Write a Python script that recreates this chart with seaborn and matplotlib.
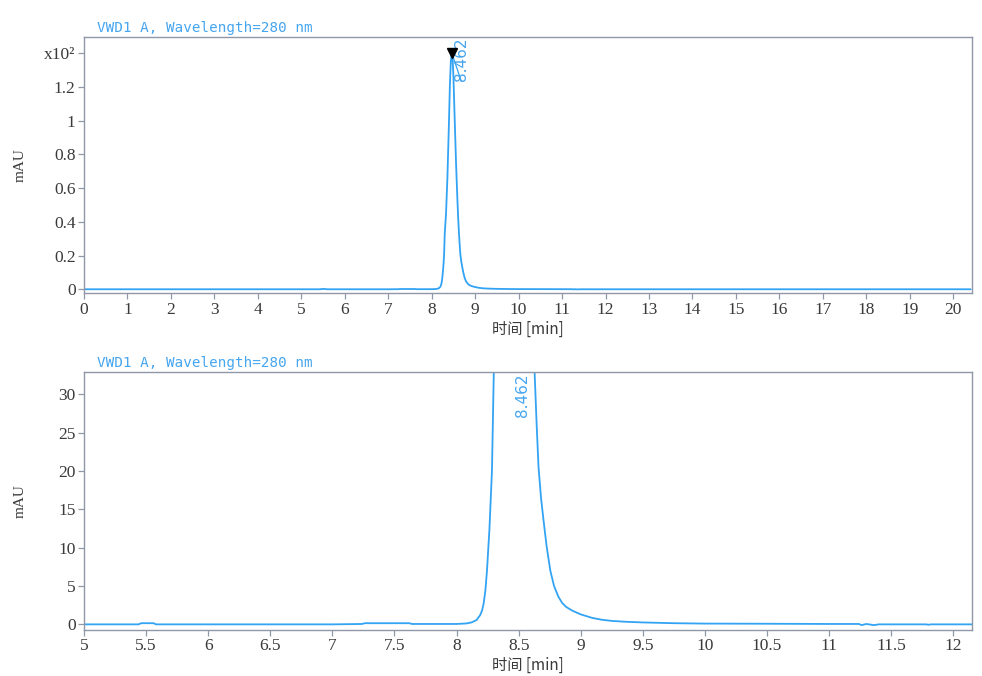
import numpy as np
import pandas as pd
import matplotlib
matplotlib.use("Agg")
import matplotlib.pyplot as plt
import seaborn as sns

# chromatogram trace (time in min, signal in mAU)
time_min = [0, 2, 4, 5, 5.44, 5.46, 5.56, 5.58, 7.0, 7.24, 7.26, 7.62, 7.64,
            8.0, 8.08, 8.12, 8.16, 8.19, 8.205, 8.218, 8.232, 8.245, 8.265, 8.285,
            8.30, 8.33, 8.36, 8.39, 8.42, 8.44, 8.462, 8.48, 8.50, 8.53, 8.56,
            8.59, 8.61, 8.628, 8.645, 8.66, 8.68, 8.70, 8.725, 8.755, 8.785,
            8.82, 8.85, 8.88, 8.93, 9.0, 9.09, 9.17, 9.25, 9.37, 9.5, 9.75,
            10.0, 10.5, 11.0, 11.24, 11.26, 11.3, 11.36, 11.4, 11.78, 11.8,
            11.82, 12.0, 13, 15, 17, 20.4]
signal_mau = [0, 0, 0, 0, 0, 0.15, 0.15, 0, 0, 0.05, 0.15, 0.15, 0.05,
              0.05, 0.12, 0.25, 0.55, 1.2, 1.8, 2.7, 4.4, 7, 12.5, 20,
              33, 45, 65, 92, 122, 135, 140, 137, 126, 100, 75,
              54, 42, 33, 26, 20.5, 16.5, 13.6, 10.2, 7, 5.0,
              3.6, 2.8, 2.3, 1.8, 1.3, 0.85, 0.6, 0.45, 0.33, 0.25, 0.15,
              0.1, 0.08, 0.05, 0.05, -0.1, 0.05, -0.1, 0.0, 0, -0.05,
              0, 0, 0, 0, 0, 0]

peak_time = 8.462
peak_label = "8.462"
title_text = "VWD1 A, Wavelength=280 nm"
x_label = "时间 [min]"
y_label = "mAU"

top_yticks = [0, 0.2, 0.4, 0.6, 0.8, 1.0, 1.2, 1.4]
top_ylabels = ["0", "0.2", "0.4", "0.6", "0.8", "1", "1.2", "x10²"]
top_xticks = list(range(0, 21))
bot_xticks = [5, 5.5, 6, 6.5, 7, 7.5, 8, 8.5, 9, 9.5, 10, 10.5, 11, 11.5, 12]
bot_yticks = [0, 5, 10, 15, 20, 25, 30]

line_color = "#33a3f4"
text_blue = "#45a5ef"
spine_color = "#9098a8"
label_color = "#3a3a3a"

df = pd.DataFrame({"time": time_min, "mau": signal_mau})
df["mau_e2"] = df["mau"] / 100.0

sns.set_style("ticks")
plt.rcParams["font.family"] = ["Liberation Serif", "Noto Sans CJK SC", "DejaVu Sans"]

fig = plt.figure(figsize=(9.82, 6.76), dpi=100)
ax_top = fig.add_axes([0.0855, 0.5661, 0.9043, 0.3787])
ax_bot = fig.add_axes([0.0855, 0.068, 0.9043, 0.3813])


def style_axes(ax):
    for s in ax.spines.values():
        s.set_color(spine_color)
        s.set_linewidth(1.0)
    ax.tick_params(axis="both", direction="out", length=4, width=0.9,
                   color=spine_color, labelcolor=label_color, labelsize=12.5, pad=2)
    ax.set_xlabel(x_label, family=["Noto Sans CJK SC", "DejaVu Sans"],
                  fontsize=11, color=label_color, labelpad=2)
    ax.set_ylabel(y_label, fontsize=11, color=label_color)
    ax.yaxis.set_label_coords(-0.065, 0.5)
    ax.text(0.015, 1.01, title_text, transform=ax.transAxes, ha="left", va="bottom",
            family="DejaVu Sans Mono", fontsize=10.3, color=text_blue)


def fmt_num(v):
    return f"{v:g}"


# top panel: full run, scaled by 10^2
sns.lineplot(data=df, x="time", y="mau_e2", ax=ax_top, color=line_color,
             linewidth=1.3, sort=False, estimator=None)
ax_top.set_xlim(0, 20.43)
ax_top.set_ylim(-0.024, 1.493)
ax_top.set_xticks(top_xticks)
ax_top.set_xticklabels([fmt_num(v) for v in top_xticks])
ax_top.set_yticks(top_yticks)
ax_top.set_yticklabels(top_ylabels)
style_axes(ax_top)

peak_h = max(signal_mau) / 100.0
ax_top.plot([peak_time], [peak_h], marker="v", color="black", markersize=7, zorder=5)
ax_top.annotate(peak_label, xy=(peak_time, peak_h), xytext=(peak_time + 0.22, 1.49),
                rotation=90, ha="center", va="top", fontsize=11, color=text_blue,
                family="DejaVu Sans",
                arrowprops=dict(arrowstyle="-", color=line_color, lw=0.9,
                                shrinkA=0, shrinkB=0, relpos=(0.5, 0.0)))

# bottom panel: zoom around the peak
sns.lineplot(data=df, x="time", y="mau", ax=ax_bot, color=line_color,
             linewidth=1.3, sort=False, estimator=None)
ax_bot.set_xlim(5, 12.15)
ax_bot.set_ylim(-0.74, 32.86)
ax_bot.set_xticks(bot_xticks)
ax_bot.set_xticklabels([fmt_num(v) for v in bot_xticks])
ax_bot.set_yticks(bot_yticks)
ax_bot.set_yticklabels([fmt_num(v) for v in bot_yticks])
style_axes(ax_bot)
ax_bot.text(peak_time + 0.07, 32.7, peak_label, rotation=90, ha="center", va="top",
            fontsize=11, color=text_blue, family="DejaVu Sans")

fig.savefig("out.png", dpi=100, facecolor="white")
